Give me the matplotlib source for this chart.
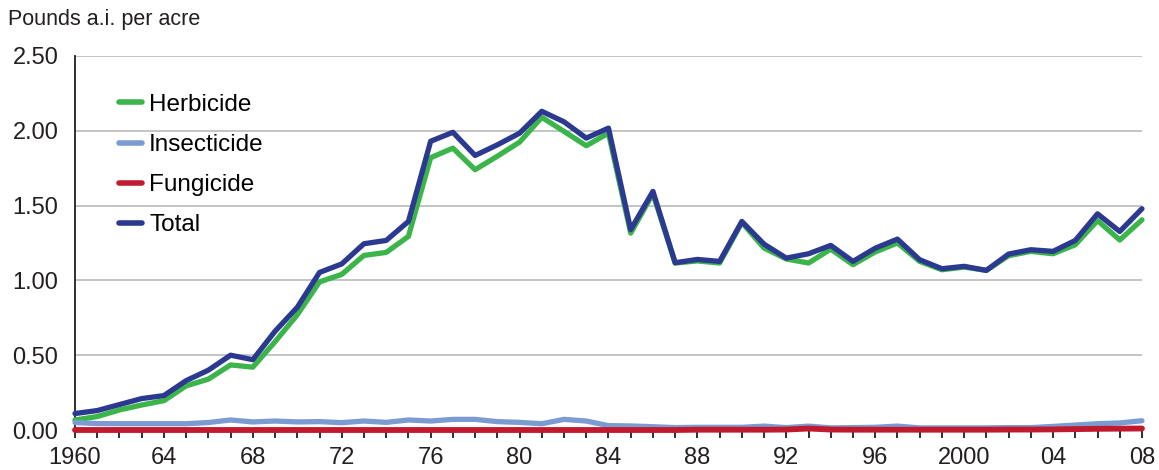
import numpy as np
import matplotlib.pyplot as plt
from matplotlib.ticker import MultipleLocator, FuncFormatter

plt.rcParams['font.family'] = ['Liberation Sans', 'DejaVu Sans']

years = list(range(1960, 2009))

herbicide = [0.067, 0.09, 0.134, 0.167, 0.196, 0.295, 0.34, 0.435, 0.42, 0.59,
             0.77, 0.99, 1.04, 1.167, 1.187, 1.294, 1.82, 1.884, 1.74, 1.83,
             1.924, 2.09, 1.996, 1.90, 1.984, 1.316, 1.58, 1.116, 1.13, 1.116,
             1.387, 1.216, 1.143, 1.116, 1.209, 1.105, 1.19, 1.25, 1.127, 1.071,
             1.089, 1.067, 1.165, 1.194, 1.178, 1.238, 1.40, 1.27, 1.405]

insecticide = [0.05, 0.043, 0.042, 0.042, 0.042, 0.042, 0.05, 0.067, 0.054, 0.06,
               0.054, 0.056, 0.049, 0.06, 0.051, 0.067, 0.06, 0.071, 0.071, 0.056,
               0.051, 0.042, 0.071, 0.06, 0.029, 0.027, 0.022, 0.016, 0.018, 0.018,
               0.018, 0.026, 0.016, 0.026, 0.014, 0.016, 0.018, 0.026, 0.014, 0.014,
               0.014, 0.014, 0.016, 0.016, 0.024, 0.033, 0.042, 0.047, 0.062]

fungicide = [0.0, 0.0, 0.0, 0.0, 0.0, 0.0, 0.0, 0.0, 0.0, 0.0,
             0.0, 0.0, 0.0, 0.0, 0.0, 0.0, 0.0, 0.0, 0.0, 0.0,
             0.0, 0.0, 0.0, 0.0, 0.0, 0.0, 0.0, 0.0, 0.002, 0.002,
             0.002, 0.002, 0.003, 0.01, 0.003, 0.002, 0.002, 0.002, 0.002, 0.002,
             0.002, 0.002, 0.003, 0.003, 0.004, 0.006, 0.008, 0.009, 0.01]

total = [0.11, 0.13, 0.17, 0.21, 0.23, 0.33, 0.40, 0.50, 0.47, 0.66,
         0.82, 1.053, 1.11, 1.245, 1.267, 1.394, 1.93, 1.99, 1.835, 1.906,
         1.984, 2.13, 2.06, 1.951, 2.018, 1.339, 1.595, 1.118, 1.14, 1.127,
         1.394, 1.242, 1.149, 1.178, 1.234, 1.127, 1.215, 1.276, 1.138, 1.078,
         1.094, 1.067, 1.176, 1.205, 1.194, 1.267, 1.445, 1.327, 1.479]

green = '#3bb54a'
lightblue = '#7b9bd3'
red = '#c1192d'
navy = '#2b3991'
ink = '#231f20'

fig = plt.figure(figsize=(11.59, 4.70), dpi=100)
ax = fig.add_axes([0.0647, 0.0851, 0.9206, 0.7958])

lw = 3.8
ax.plot(years, herbicide, color=green, lw=lw, label='Herbicide', solid_capstyle='round', clip_on=False, zorder=3)
ax.plot(years, insecticide, color=lightblue, lw=lw, label='Insecticide', solid_capstyle='round', clip_on=False, zorder=3)
ax.plot(years, fungicide, color=red, lw=4.2, label='Fungicide', solid_capstyle='round', clip_on=False, zorder=4)
ax.plot(years, total, color=navy, lw=lw, label='Total', solid_capstyle='round', clip_on=False, zorder=5)

ax.set_xlim(1960, 2008)
ax.set_ylim(0, 2.5)

ax.yaxis.set_major_locator(MultipleLocator(0.5))
ax.yaxis.set_major_formatter(FuncFormatter(lambda v, p: '%.2f' % v))
ax.grid(axis='y', color='#c4c4c4', lw=1.4, zorder=0)
ax.tick_params(axis='y', length=0, pad=12, labelsize=17, labelcolor=ink)

ax.xaxis.set_major_locator(MultipleLocator(4))
ax.xaxis.set_minor_locator(MultipleLocator(1))


def year_label(v, p):
    v = int(round(v))
    if v in (1960, 2000):
        return str(v)
    return '%02d' % (v % 100)


ax.xaxis.set_major_formatter(FuncFormatter(year_label))
ax.tick_params(axis='x', which='both', length=6, width=1.3, color=ink,
               pad=6, labelsize=17, labelcolor=ink)

for s in ['top', 'right', 'bottom']:
    ax.spines[s].set_visible(False)
ax.spines['left'].set_color(ink)
ax.spines['left'].set_linewidth(1.3)

leg = ax.legend(loc='upper left', bbox_to_anchor=(0.032, 0.925), frameon=False,
                fontsize=17.5, handlelength=0.95, handletextpad=0.3, labelspacing=0.75,
                borderaxespad=0)
for line in leg.get_lines():
    line.set_linewidth(4)
    line.set_solid_capstyle('round')

fig.text(0.007, 0.958, 'Pounds a.i. per acre', fontsize=15.5, color=ink, va='center', ha='left')

fig.savefig('out.png', dpi=100)
